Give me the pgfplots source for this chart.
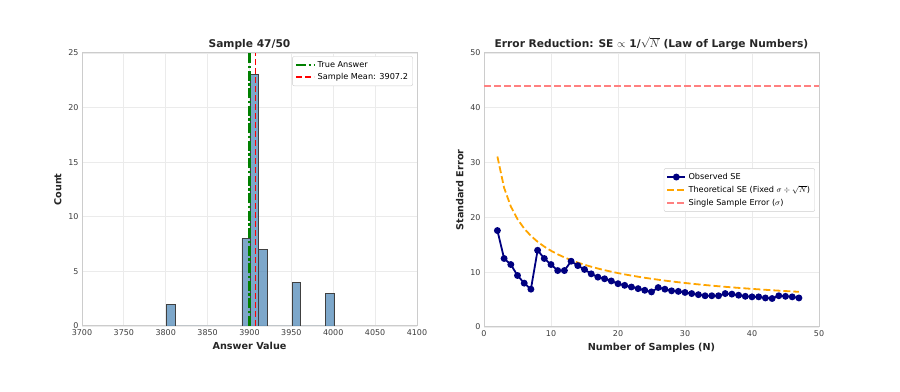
\documentclass[border=0pt]{standalone}
\usepackage{fontspec}
\setmainfont{DejaVu Sans}
\usepackage{pgfplots}
\pgfplotsset{compat=1.18}
\definecolor{steel}{RGB}{70,130,180}
\definecolor{gridc}{RGB}{235,235,235}
\definecolor{framec}{RGB}{204,204,204}
\definecolor{txt}{RGB}{60,60,60}
\definecolor{navyc}{RGB}{0,0,128}
\definecolor{orangec}{RGB}{255,165,0}
\definecolor{mplgreen}{RGB}{0,128,0}
\definecolor{mplred}{RGB}{255,0,0}
\definecolor{salmonc}{RGB}{255,128,128}
\pgfplotsset{
 common/.style={
  scale only axis, width=335bp, height=273bp,
  axis line style={framec, line width=1bp},
  grid=major, major grid style={gridc, line width=0.8bp},
  tick style={draw=none},
  tick label style={font=\fontsize{8}{9}\selectfont, text=txt},
  label style={font=\bfseries\fontsize{9.7}{11}\selectfont, text=black!85},
  title style={font=\bfseries\fontsize{10.7}{12}\selectfont, text=black!85, at={(0.5,1)}, anchor=south, yshift=-6bp},
  /pgf/number format/assume math mode=true,
  legend cell align=left,
  legend style={font=\fontsize{8.2}{9.8}\selectfont, draw=framec, rounded corners=2bp, fill=white, inner sep=2.5bp,
    nodes={inner sep=2.3bp}},
  legend image code/.code={\draw[mark repeat=2, mark phase=2, #1] plot coordinates {(0bp,0bp) (9bp,0bp) (18bp,0bp)};},
 }
}
\begin{document}
\begin{tikzpicture}
\path[use as bounding box] (0,0) rectangle (900bp,392bp);
\begin{axis}[common, at={(82bp,66bp)}, anchor=south west,
  xmin=3700, xmax=4100, ymin=0, ymax=25,
  xtick={3700,3750,...,4100}, ytick={0,5,...,25},
  xticklabel style={/pgf/number format/.cd, 1000 sep={}},
  title={Sample 47/50}, xlabel={Answer Value}, ylabel={Count},
  legend style={at={(rel axis cs:0.988,0.988)}, anchor=north east},
]
\addplot[ybar interval, fill=steel, fill opacity=0.7, draw=black!75, line width=0.8bp, forget plot] coordinates {
(3801,2) (3811,0) (3821,0) (3831,0) (3841,0) (3851,0) (3861,0) (3871,0) (3881,0)
(3891,8) (3901,23) (3911,7) (3921,0) (3931,0) (3941,0) (3951,4) (3961,0) (3971,0)
(3981,0) (3991,3) (4001,0)};
\addplot[draw=mplgreen, line width=2.5bp, dash pattern=on 10bp off 2.5bp on 2.5bp off 2.5bp] coordinates {(3900,0) (3900,25)};
\addlegendentry{True Answer}
\addplot[draw=mplred, line width=1.6bp, dash pattern=on 6bp off 3bp] coordinates {(3907.2,0) (3907.2,25)};
\addlegendentry{Sample Mean: 3907.2}
\end{axis}
\begin{axis}[common, at={(484bp,65bp)}, anchor=south west, height=274bp,
  xmin=0, xmax=50, ymin=0, ymax=50,
  xtick={0,10,...,50}, ytick={0,10,...,50},
  title={Error Reduction: SE $\propto$ 1/$\sqrt{N}$ (Law of Large Numbers)},
  xlabel={Number of Samples (N)}, ylabel={Standard Error},
  legend style={at={(rel axis cs:0.988,0.5)}, anchor=east},
]
\addplot[draw=navyc, line width=1.8bp, mark=*, mark size=2.5bp, mark options={solid, fill=navyc, draw=navyc}] coordinates {
(2,17.6) (3,12.5) (4,11.4) (5,9.4) (6,8.0) (7,6.9) (8,14.0) (9,12.5) (10,11.4)
(11,10.3) (12,10.3) (13,12.0) (14,11.2) (15,10.5) (16,9.7) (17,9.1) (18,8.8)
(19,8.4) (20,7.9) (21,7.6) (22,7.3) (23,7.0) (24,6.7) (25,6.4) (26,7.2) (27,6.9)
(28,6.6) (29,6.5) (30,6.3) (31,6.1) (32,5.9) (33,5.7) (34,5.7) (35,5.7) (36,6.1)
(37,6.0) (38,5.8) (39,5.6) (40,5.5) (41,5.5) (42,5.3) (43,5.2) (44,5.7) (45,5.6)
(46,5.5) (47,5.3)};
\addlegendentry{Observed SE}
\addplot[draw=orangec, line width=1.8bp, dash pattern=on 7bp off 3bp] coordinates {
(2,31.113) (3,25.403) (4,22.0) (5,19.677) (6,17.963) (7,16.630) (8,15.556) (9,14.667)
(10,13.914) (11,13.266) (12,12.702) (13,12.203) (14,11.759) (15,11.361) (16,11.0)
(17,10.672) (18,10.371) (19,10.094) (20,9.839) (21,9.602) (22,9.381) (23,9.175)
(24,8.981) (25,8.8) (26,8.629) (27,8.468) (28,8.315) (29,8.171) (30,8.033) (31,7.903)
(32,7.778) (33,7.659) (34,7.546) (35,7.437) (36,7.333) (37,7.234) (38,7.138) (39,7.046)
(40,6.957) (41,6.872) (42,6.789) (43,6.710) (44,6.633) (45,6.559) (46,6.487) (47,6.418)};
\addlegendentry{Theoretical SE (Fixed $\sigma \div \sqrt{N}$)}
\addplot[draw=salmonc, line width=1.8bp, dash pattern=on 7bp off 3bp] coordinates {(0,44) (50,44)};
\addlegendentry{Single Sample Error ($\sigma$)}
\end{axis}
\end{tikzpicture}
\end{document}
